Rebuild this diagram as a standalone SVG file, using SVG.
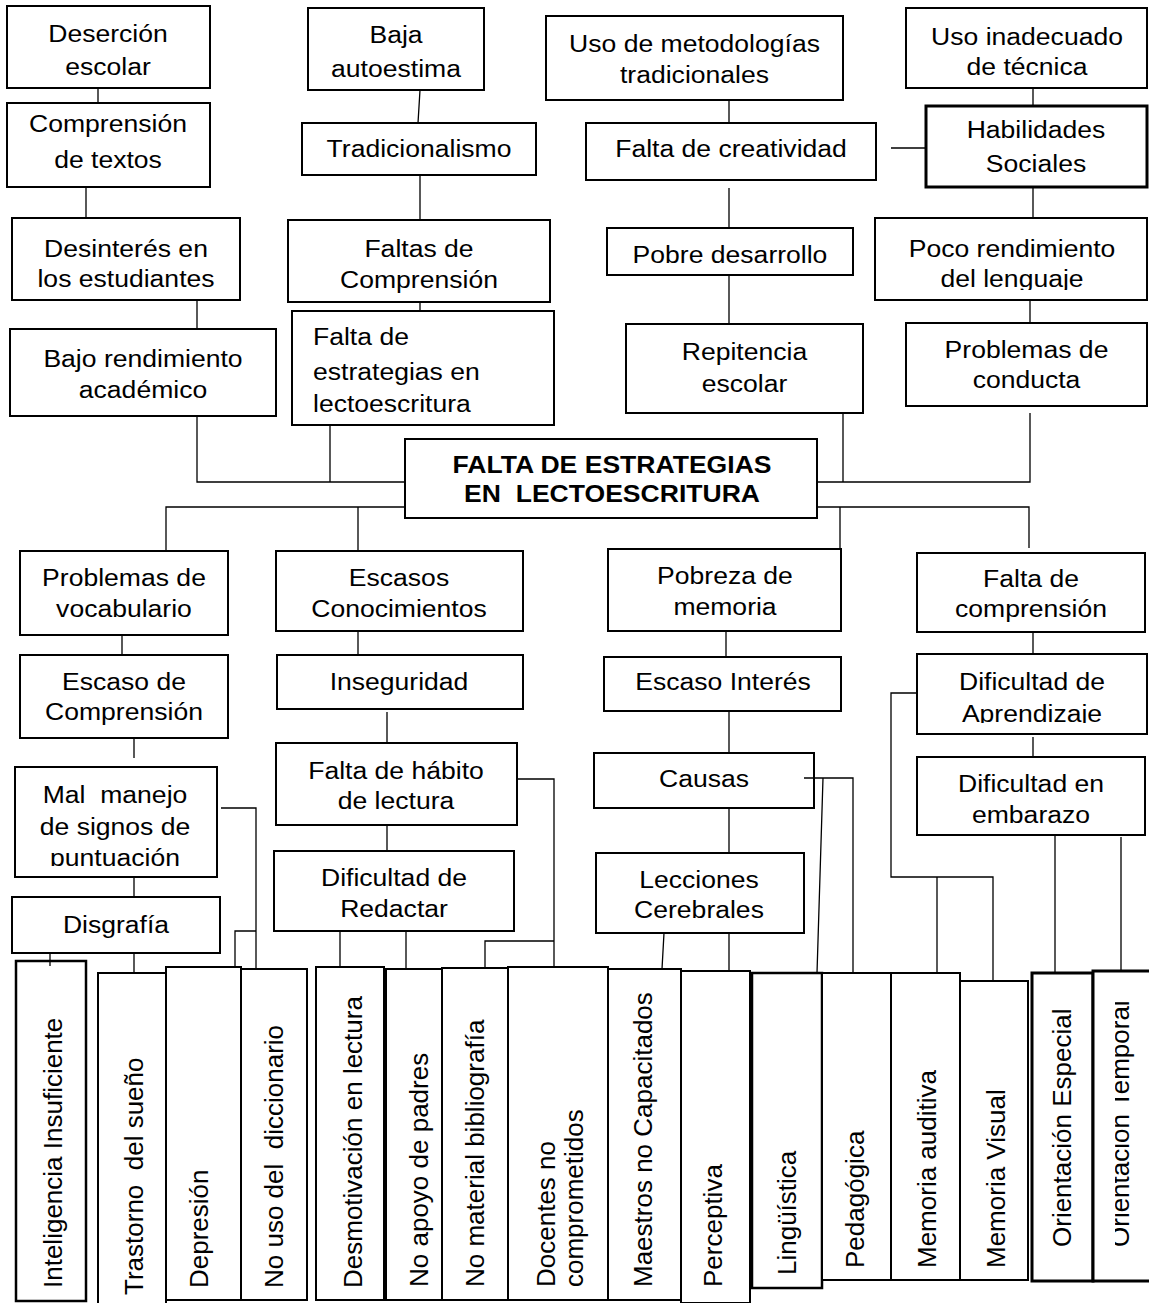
<svg xmlns="http://www.w3.org/2000/svg" width="1149" height="1303" viewBox="0 0 1149 1303">
<style>
.b{fill:#fff;stroke:#000;stroke-width:2}
.bm{fill:#fff;stroke:#000;stroke-width:2.5}
.bt{fill:#fff;stroke:#000;stroke-width:3}
.c{fill:none;stroke:#000;stroke-width:1.3}
.t{font-family:"Liberation Sans",Arial,sans-serif;font-size:23.5px;text-anchor:middle;fill:#000}
.ts{font-family:"Liberation Sans",Arial,sans-serif;font-size:23.5px;text-anchor:start;fill:#000}
.tb{font-family:"Liberation Sans",Arial,sans-serif;font-size:23.5px;font-weight:bold;text-anchor:middle;fill:#000}
.v{font-family:"Liberation Sans",Arial,sans-serif;font-size:26px;text-anchor:start;fill:#000}
</style>
<defs>
<clipPath id="cLeng"><rect x="870" y="210" width="280" height="80"/></clipPath>
<clipPath id="cPunt"><rect x="10" y="760" width="210" height="106"/></clipPath>
<clipPath id="cApr"><rect x="910" y="650" width="240" height="73"/></clipPath>
<clipPath id="cTemp"><rect x="1115" y="960" width="40" height="340"/></clipPath>
</defs>
<rect width="1149" height="1303" fill="#fff"/>

<g id="n1"><rect class="b" x="7" y="6" width="203" height="82"/><text class="t" transform="translate(108 0) scale(1.13 1)"><tspan x="0" y="42">Deserción</tspan><tspan x="0" y="75">escolar</tspan></text></g>
<g id="n2"><rect class="b" x="7" y="103" width="203" height="84"/><text class="t" transform="translate(108 0) scale(1.13 1)"><tspan x="0" y="132">Comprensión</tspan><tspan x="0" y="168">de textos</tspan></text></g>
<g id="n3"><rect class="b" x="12" y="218" width="228" height="82"/><text class="t" transform="translate(126 0) scale(1.13 1)"><tspan x="0" y="257">Desinterés en</tspan><tspan x="0" y="287">los estudiantes</tspan></text></g>
<g id="n4"><rect class="b" x="10" y="329" width="266" height="87"/><text class="t" transform="translate(143 0) scale(1.13 1)"><tspan x="0" y="367">Bajo rendimiento</tspan><tspan x="0" y="398">académico</tspan></text></g>
<g id="n5"><rect class="b" x="308" y="8" width="176" height="82"/><text class="t" transform="translate(396 0) scale(1.13 1)"><tspan x="0" y="43">Baja</tspan><tspan x="0" y="77">autoestima</tspan></text></g>
<g id="n6"><rect class="b" x="302" y="123" width="234" height="52"/><text class="t" transform="translate(419 0) scale(1.13 1)"><tspan x="0" y="157">Tradicionalismo</tspan></text></g>
<g id="n7"><rect class="b" x="288" y="220" width="262" height="82"/><text class="t" transform="translate(419 0) scale(1.13 1)"><tspan x="0" y="257">Faltas de</tspan><tspan x="0" y="288">Comprensión</tspan></text></g>
<g id="n8"><rect class="b" x="292" y="311" width="262" height="114"/><text class="ts" transform="translate(313 0) scale(1.13 1)"><tspan x="0" y="345">Falta de</tspan><tspan x="0" y="380">estrategias en</tspan><tspan x="0" y="412">lectoescritura</tspan></text></g>
<g id="n9"><rect class="b" x="546" y="16" width="297" height="84"/><text class="t" transform="translate(694.5 0) scale(1.13 1)"><tspan x="0" y="52">Uso de metodologías</tspan><tspan x="0" y="83">tradicionales</tspan></text></g>
<g id="n10"><rect class="b" x="586" y="123" width="290" height="57"/><text class="t" transform="translate(731 0) scale(1.13 1)"><tspan x="0" y="157">Falta de creatividad</tspan></text></g>
<g id="n11"><rect class="b" x="607" y="228" width="246" height="47"/><text class="t" transform="translate(730 0) scale(1.13 1)"><tspan x="0" y="263">Pobre desarrollo</tspan></text></g>
<g id="n12"><rect class="b" x="626" y="324" width="237" height="89"/><text class="t" transform="translate(744.5 0) scale(1.13 1)"><tspan x="0" y="360">Repitencia</tspan><tspan x="0" y="392">escolar</tspan></text></g>
<g id="n13"><rect class="b" x="906" y="8" width="241" height="80"/><text class="t" transform="translate(1027 0) scale(1.13 1)"><tspan x="0" y="45">Uso inadecuado</tspan><tspan x="0" y="75">de técnica</tspan></text></g>
<g id="n14"><rect class="bt" x="926" y="106" width="221" height="81"/><text class="t" transform="translate(1036 0) scale(1.13 1)"><tspan x="0" y="138">Habilidades</tspan><tspan x="0" y="172">Sociales</tspan></text></g>
<g id="n15"><rect class="b" x="875" y="218" width="272" height="82"/><g clip-path="url(#cLeng)"><text class="t" transform="translate(1012 0) scale(1.13 1)"><tspan x="0" y="257">Poco rendimiento</tspan><tspan x="0" y="287">del lenguaje</tspan></text></g></g>
<g id="n16"><rect class="b" x="906" y="323" width="241" height="83"/><text class="t" transform="translate(1026.5 0) scale(1.13 1)"><tspan x="0" y="358">Problemas de</tspan><tspan x="0" y="388">conducta</tspan></text></g>

<g id="n17"><rect class="b" x="405" y="439" width="412" height="79"/><text class="tb" xml:space="preserve" transform="translate(612 0) scale(1.13 1)"><tspan x="0" y="473">FALTA DE ESTRATEGIAS</tspan><tspan x="0" y="502">EN  LECTOESCRITURA</tspan></text></g>

<g id="n18"><rect class="b" x="20" y="551" width="208" height="84"/><text class="t" transform="translate(124 0) scale(1.13 1)"><tspan x="0" y="586">Problemas de</tspan><tspan x="0" y="617">vocabulario</tspan></text></g>
<g id="n19"><rect class="b" x="276" y="551" width="247" height="80"/><text class="t" transform="translate(399 0) scale(1.13 1)"><tspan x="0" y="586">Escasos</tspan><tspan x="0" y="617">Conocimientos</tspan></text></g>
<g id="n20"><rect class="b" x="608" y="549" width="233" height="82"/><text class="t" transform="translate(725 0) scale(1.13 1)"><tspan x="0" y="584">Pobreza de</tspan><tspan x="0" y="615">memoria</tspan></text></g>
<g id="n21"><rect class="b" x="917" y="553" width="228" height="79"/><text class="t" transform="translate(1031 0) scale(1.13 1)"><tspan x="0" y="587">Falta de</tspan><tspan x="0" y="617">comprensión</tspan></text></g>
<g id="n22"><rect class="b" x="20" y="655" width="208" height="83"/><text class="t" transform="translate(124 0) scale(1.13 1)"><tspan x="0" y="690">Escaso de</tspan><tspan x="0" y="720">Comprensión</tspan></text></g>
<g id="n23"><rect class="b" x="277" y="655" width="246" height="54"/><text class="t" transform="translate(399 0) scale(1.13 1)"><tspan x="0" y="690">Inseguridad</tspan></text></g>
<g id="n24"><rect class="b" x="604" y="657" width="237" height="54"/><text class="t" transform="translate(723 0) scale(1.13 1)"><tspan x="0" y="690">Escaso Interés</tspan></text></g>
<g id="n25"><rect class="b" x="917" y="654" width="230" height="80"/><g clip-path="url(#cApr)"><text class="t" transform="translate(1032 0) scale(1.13 1)"><tspan x="0" y="690">Dificultad de</tspan><tspan x="0" y="722">Aprendizaje</tspan></text></g></g>
<g id="n26"><rect class="b" x="15" y="767" width="202" height="110"/><g clip-path="url(#cPunt)"><text class="t" xml:space="preserve" transform="translate(115 0) scale(1.13 1)"><tspan x="0" y="803">Mal  manejo</tspan><tspan x="0" y="835">de signos de</tspan><tspan x="0" y="866">puntuación</tspan></text></g></g>
<g id="n27"><rect class="b" x="276" y="743" width="241" height="82"/><text class="t" transform="translate(396 0) scale(1.13 1)"><tspan x="0" y="779">Falta de hábito</tspan><tspan x="0" y="809">de lectura</tspan></text></g>
<g id="n28"><rect class="b" x="594" y="753" width="220" height="55"/><text class="t" transform="translate(704 0) scale(1.13 1)"><tspan x="0" y="787">Causas</tspan></text></g>
<g id="n29"><rect class="b" x="917" y="757" width="228" height="78"/><text class="t" transform="translate(1031 0) scale(1.13 1)"><tspan x="0" y="792">Dificultad en</tspan><tspan x="0" y="823">embarazo</tspan></text></g>
<g id="n30"><rect class="b" x="12" y="897" width="208" height="56"/><text class="t" transform="translate(116 0) scale(1.13 1)"><tspan x="0" y="933">Disgrafía</tspan></text></g>
<g id="n31"><rect class="b" x="274" y="851" width="240" height="80"/><text class="t" transform="translate(394 0) scale(1.13 1)"><tspan x="0" y="886">Dificultad de</tspan><tspan x="0" y="917">Redactar</tspan></text></g>
<g id="n32"><rect class="b" x="596" y="853" width="208" height="80"/><text class="t" transform="translate(699 0) scale(1.13 1)"><tspan x="0" y="888">Lecciones</tspan><tspan x="0" y="918">Cerebrales</tspan></text></g>

<g id="v1"><rect class="bm" x="16" y="961" width="70" height="340"/><text class="v" transform="translate(62 1288) rotate(-90)">Inteligencia Insuficiente</text></g>
<g id="v2"><rect class="b" x="98" y="973" width="68" height="340"/><text class="v" xml:space="preserve" transform="translate(143 1295) rotate(-90)">Trastorno  del sueño</text></g>
<g id="v3"><rect class="b" x="166" y="967" width="75" height="333"/><text class="v" transform="translate(208 1288) rotate(-90)">Depresión</text></g>
<g id="v4"><rect class="b" x="241" y="969" width="66" height="331"/><text class="v" xml:space="preserve" transform="translate(283 1288) rotate(-90)">No uso del  diccionario</text></g>
<g id="v5"><rect class="b" x="316" y="967" width="68" height="333"/><text class="v" transform="translate(362 1288) rotate(-90)">Desmotivación en lectura</text></g>
<g id="v6"><rect class="b" x="386" y="969" width="56" height="331"/><text class="v" transform="translate(428 1287) rotate(-90)">No apoyo de padres</text></g>
<g id="v7"><rect class="b" x="442" y="968" width="66" height="332"/><text class="v" transform="translate(484 1287) rotate(-90)">No material bibliografía</text></g>
<g id="v8"><rect class="b" x="508" y="967" width="100" height="333"/><text class="v" transform="translate(555 1287) rotate(-90)">Docentes no</text><text class="v" transform="translate(583 1287) rotate(-90)">comprometidos</text></g>
<g id="v9"><rect class="b" x="608" y="969" width="73" height="331"/><text class="v" transform="translate(652 1287) rotate(-90)">Maestros no Capacitados</text></g>
<g id="v10"><rect class="b" x="681" y="971" width="69" height="332"/><text class="v" transform="translate(722 1287) rotate(-90)">Perceptiva</text></g>
<g id="v11"><rect class="bm" x="752" y="973" width="70" height="315"/><text class="v" transform="translate(796 1275) rotate(-90)">Lingüística</text></g>
<g id="v12"><rect class="b" x="822" y="973" width="69" height="307"/><text class="v" transform="translate(864 1268) rotate(-90)">Pedagógica</text></g>
<g id="v13"><rect class="b" x="891" y="973" width="69" height="307"/><text class="v" transform="translate(936 1268) rotate(-90)">Memoria auditiva</text></g>
<g id="v14"><rect class="b" x="960" y="981" width="68" height="299"/><text class="v" transform="translate(1005 1268) rotate(-90)">Memoria Visual</text></g>
<g id="v15"><rect class="bt" x="1032" y="973" width="61" height="308"/><text class="v" transform="translate(1071 1247) rotate(-90)">Orientación Especial</text></g>
<g id="v16"><rect class="bt" x="1093" y="971" width="60" height="310"/><g clip-path="url(#cTemp)"><text class="v" transform="translate(1129 1247) rotate(-90)">Orientación Temporal</text></g></g>

<g id="connectors" class="c">
<path class="c" d="M98 88V103M86 187V218M197 300V329M197 416V482H405M330 425V482"/>
<path class="c" d="M420 90L418 123M420 175V220M420 302V311"/>
<path class="c" d="M729 100V123M729 188V228M729 275V324M843 413V482M817 482H1030V413"/>
<path class="c" d="M1033 88V106M891 148H926M1033 187V218M1030 300V323"/>
<path class="c" d="M405 507H166V551M358 507V551M817 507H1029V548M840 507V549"/>
<path class="c" d="M122 635V655M134 738V758M221 808H256V968M256 931H235V968M134 877V897M134 953V973M50 954V966"/>
<path class="c" d="M358 631V655M387 712V743M517 779H554V966M387 825V851M340 931V967M406 931V969M485 968V941H554"/>
<path class="c" d="M726 631V657M729 711V753M804 778H853V973M823 778L817 973M729 808V853M664 933L662 969M729 933V971"/>
<path class="c" d="M1033 632V654M917 693H891V877H993V981M937 877V973M1033 737V757M1055 835V973M1121 837V971"/>
</g>
</svg>
